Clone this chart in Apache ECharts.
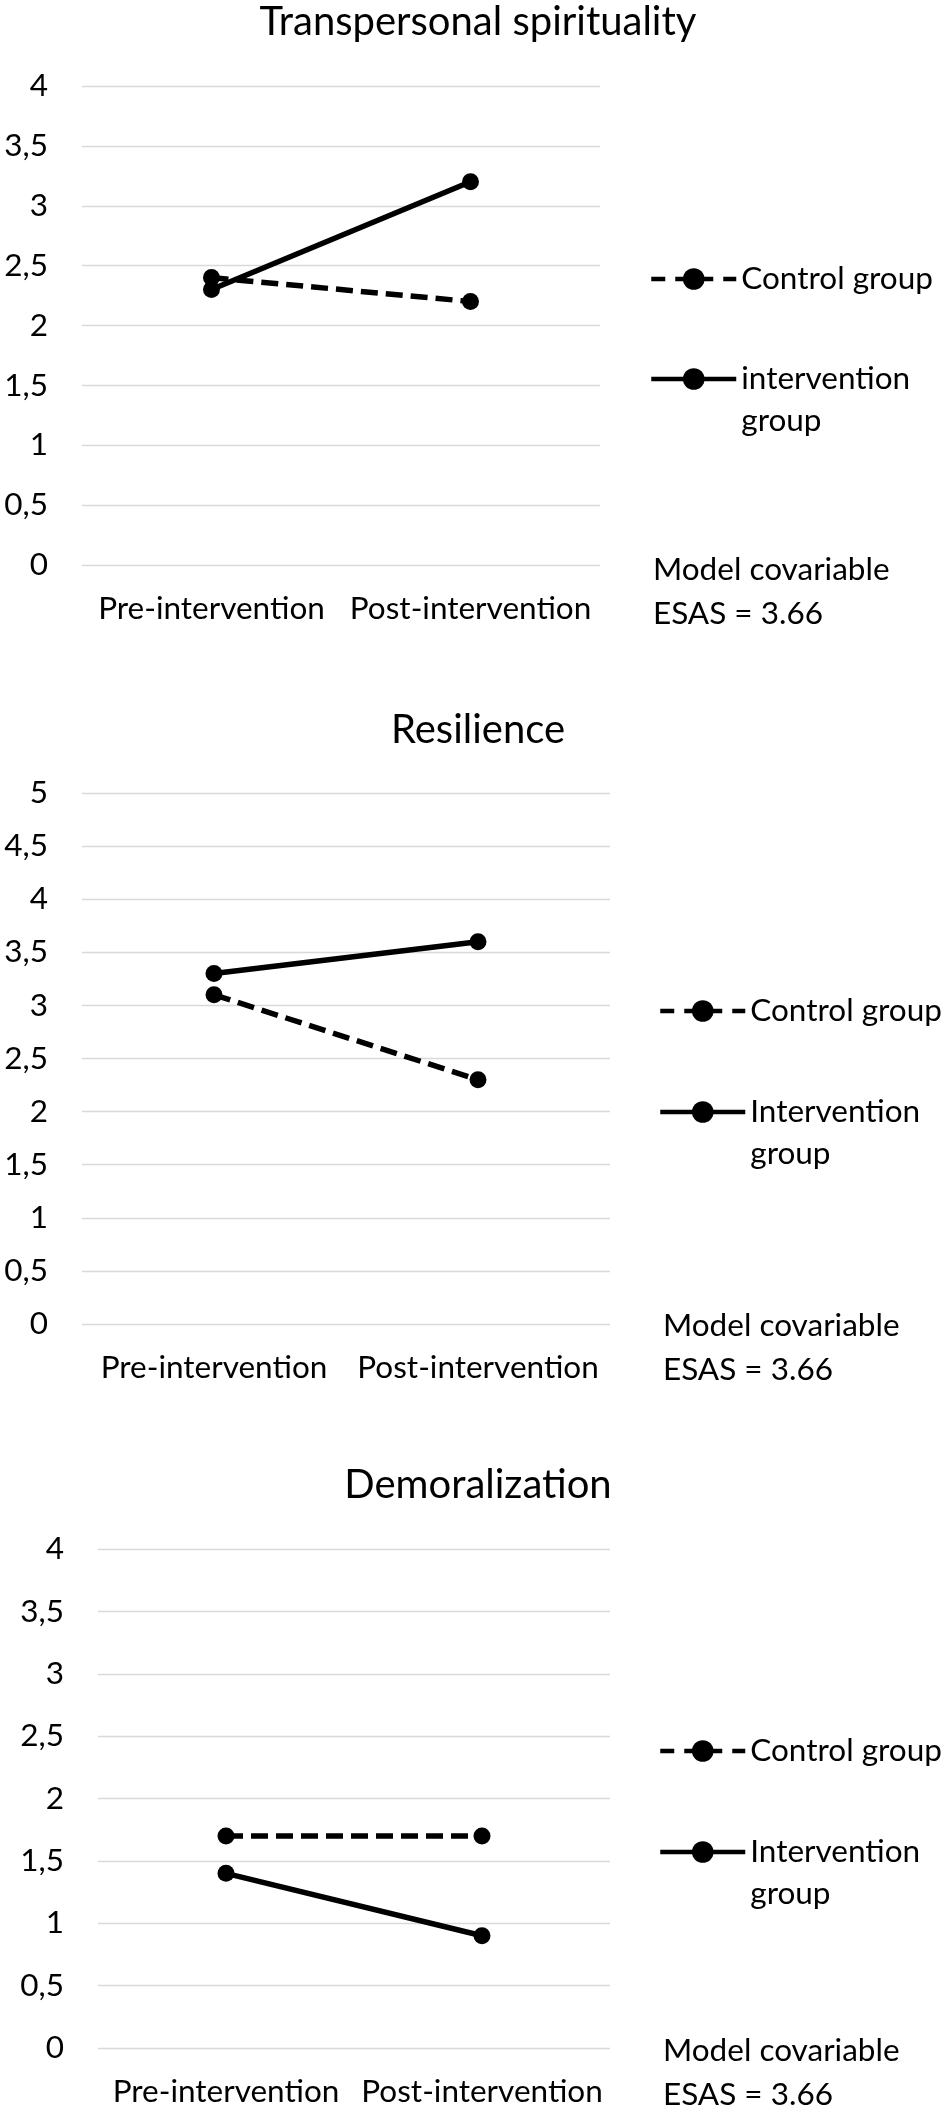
<!DOCTYPE html>
<html>
<head>
<meta charset="utf-8">
<script src="https://cdn.jsdelivr.net/npm/echarts@6/dist/echarts.min.js"></script>
<style>
  html, body { margin: 0; padding: 0; background: #fff; }
  #chart { width: 950px; height: 2111px; }
</style>
</head>
<body>
<div id="chart"></div>
<script>
const categories = ['Pre-intervention', 'Post-intervention'];
const panelTitles = ['Transpersonal spirituality', 'Resilience', 'Demoralization'];
const yMax = [4, 5, 4];
const controlNames = ['Control group', 'Control group', 'Control group'];
const interventionNames = ['intervention group', 'Intervention group', 'Intervention group'];

const spiritualityControl = [2.4, 2.2];
const spiritualityIntervention = [2.3, 3.2];
const resilienceControl = [3.1, 2.3];
const resilienceIntervention = [3.3, 3.6];
const demoralizationControl = [1.7, 1.7];
const demoralizationIntervention = [1.4, 0.9];

const covariateNote = 'Model covariable\nESAS = 3.66';

const controlData = [spiritualityControl, resilienceControl, demoralizationControl];
const interventionData = [spiritualityIntervention, resilienceIntervention, demoralizationIntervention];

// layout of the three stacked panels
const grids = [
    { left: 82, top: 86, width: 518, height: 479 },
    { left: 82, top: 793, width: 528, height: 531 },
    { left: 98, top: 1549, width: 512, height: 499 }
];
const titleTops = [0, 708, 1463];
const legendLeft = [649, 658, 658];
const controlLegendY = [279, 1011, 1751];
const interventionLegendY = [379, 1112, 1852];
const noteLeft = [653, 663, 663];
const noteTop = [548, 1304, 2029];

const FONT = 'Lato';
const textSize = 31.5;

const chart = echarts.init(document.getElementById('chart'));

const option = {
    backgroundColor: '#fff',
    animation: false,
    title: panelTitles.map((t, i) => ({
        text: t,
        left: 478,
        top: titleTops[i],
        textAlign: 'center',
        padding: 0,
        textStyle: { fontFamily: FONT, fontSize: 40, fontWeight: 'normal', color: '#000', lineHeight: 44 }
    })),
    grid: grids.map(g => ({ ...g, containLabel: false })),
    xAxis: grids.map((g, i) => ({
        type: 'category',
        gridIndex: i,
        data: categories,
        boundaryGap: true,
        axisLine: { show: false },
        axisTick: { show: false },
        axisLabel: { interval: 0, fontFamily: FONT, fontSize: textSize, color: '#000', margin: 26, lineHeight: 36 }
    })),
    yAxis: grids.map((g, i) => ({
        type: 'value',
        gridIndex: i,
        min: 0,
        max: yMax[i],
        interval: 0.5,
        axisLine: { show: false },
        axisTick: { show: false },
        splitLine: { lineStyle: { color: '#d9d9d9', width: 1.3 } },
        axisLabel: {
            fontFamily: FONT, fontSize: textSize, color: '#000', margin: 34,
            formatter: v => String(v).replace('.', ',')
        }
    })),
    legend: [],
    graphic: noteTop.map((t, i) => ({
        type: 'text',
        left: noteLeft[i],
        top: t,
        style: { text: covariateNote, font: textSize + 'px ' + FONT, fill: '#000', lineHeight: 44 }
    })),
    series: []
};

for (let i = 0; i < 3; i++) {
    option.series.push({
        name: controlNames[i],
        type: 'line',
        xAxisIndex: i,
        yAxisIndex: i,
        data: controlData[i],
        symbol: 'circle',
        symbolSize: 17,
        color: '#000',
        lineStyle: { color: '#000', width: 5.5, type: [17, 8] },
        itemStyle: { color: '#000' }
    });
    option.series.push({
        name: interventionNames[i],
        type: 'line',
        xAxisIndex: i,
        yAxisIndex: i,
        data: interventionData[i],
        symbol: 'circle',
        symbolSize: 17,
        color: '#000',
        lineStyle: { color: '#000', width: 5.5, type: 'solid' },
        itemStyle: { color: '#000' }
    });

    const legendBase = {
        left: legendLeft[i],
        orient: 'vertical',
        padding: 0,
        itemWidth: 85,
        itemHeight: 27,
        selectedMode: false,
        lineStyle: { width: 4.5 }
    };
    option.legend.push({
        ...legendBase,
        top: controlLegendY[i] - 21,
        data: [controlNames[i]],
        lineStyle: { width: 4.5, type: [14, 10] },
        textStyle: { fontFamily: FONT, fontSize: textSize, color: '#000', lineHeight: 42 }
    });
    // blank first line keeps "intervention" level with the icon and "group" below it
    option.legend.push({
        ...legendBase,
        top: interventionLegendY[i] - 63,
        data: [interventionNames[i]],
        formatter: name => '\n' + name.replace(' group', '\ngroup'),
        textStyle: { fontFamily: FONT, fontSize: textSize, color: '#000', lineHeight: 42 }
    });
}

chart.setOption(option);
</script>
</body>
</html>
